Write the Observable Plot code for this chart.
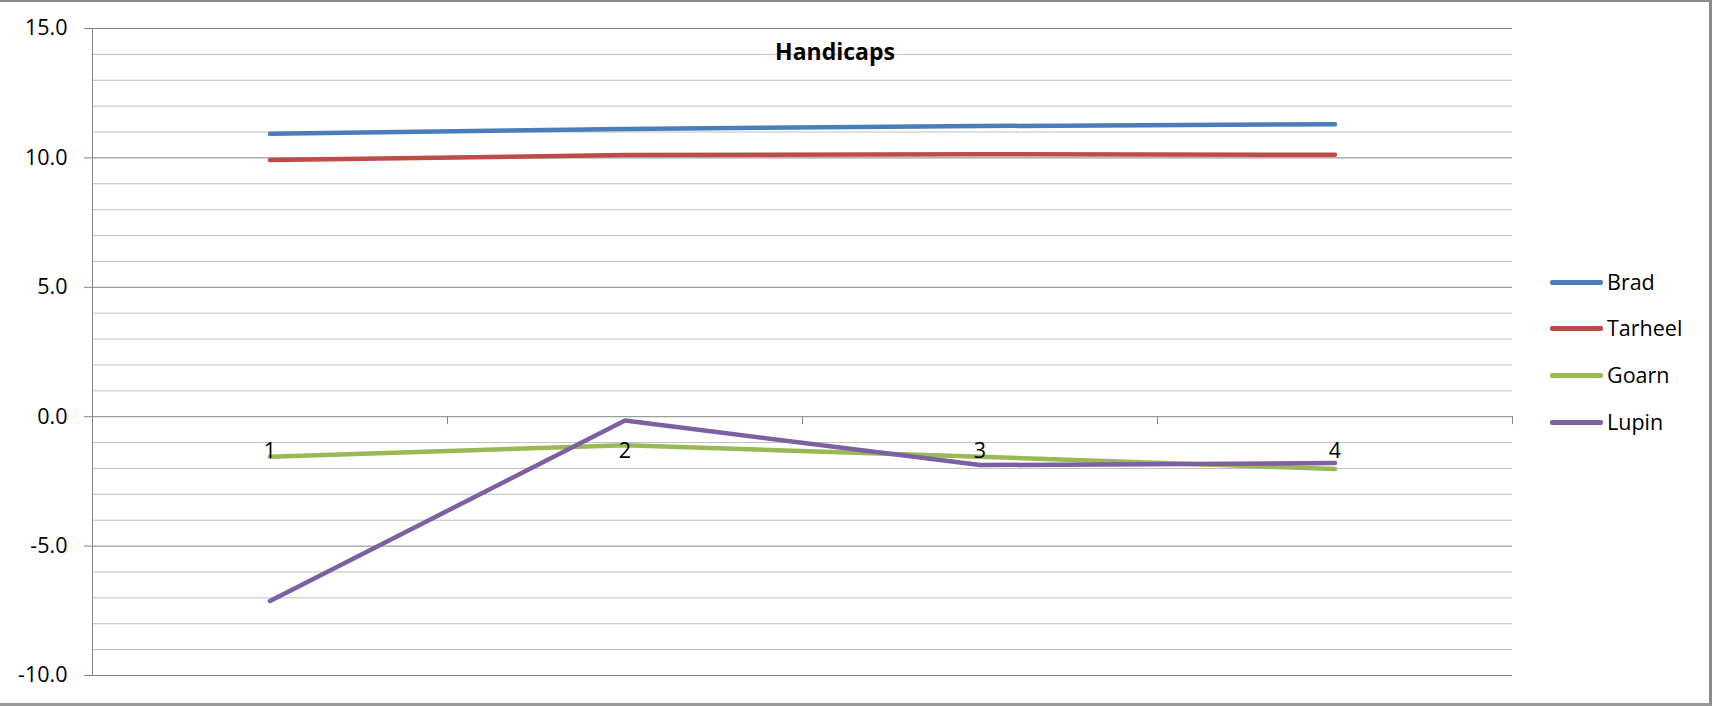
<!DOCTYPE html>
<html>
<head>
<meta charset="utf-8">
<script src="https://cdn.jsdelivr.net/npm/d3@7"></script>
<script src="https://cdn.jsdelivr.net/npm/@observablehq/plot@0.6"></script>
<style>
  html, body { margin: 0; padding: 0; background: #fff; }
  #chart { position: relative; width: 1712px; height: 706px; overflow: hidden; font-family: "Open Sans", sans-serif; }
  #title { position: absolute; left: 835px; top: 51px; transform: translate(-50%, -50%); font-size: 23px; font-weight: bold; color: #000; white-space: nowrap; }
  #legend { position: absolute; left: 1550px; top: 0; }
  .item { position: absolute; left: 0; height: 0; white-space: nowrap; }
  .swatch { position: absolute; left: 0; top: -2px; width: 53px; height: 4.5px; border-radius: 2px; }
  .label { position: absolute; left: 57px; top: 0; transform: translateY(-50%); font-size: 21.5px; color: #000; line-height: 1; }
  #border { position: absolute; left: 0; top: 0; right: 0; bottom: 0; border-top: 2px solid #8a8a8a; border-right: 3px solid #8a8a8a; border-bottom: 3px solid #9a9a9a; pointer-events: none; }
</style>
</head>
<body>
<div id="chart">
  <div id="title"></div>
  <div id="legend"></div>
  <div id="border"></div>
</div>
<script>
// ---- data ----
const titleText = "Handicaps";
const categories = [1, 2, 3, 4];
const seriesNames = ["Brad", "Tarheel", "Goarn", "Lupin"];
const seriesColors = ["#4a7ebb", "#be4b48", "#98b954", "#7d60a0"];
const brad = [10.93, 11.12, 11.23, 11.30];
const tarheel = [9.92, 10.11, 10.14, 10.12];
const goarn = [-1.55, -1.10, -1.55, -2.02];
const lupin = [-7.12, -0.15, -1.87, -1.79];
const yTicks = [-10, -5, 0, 5, 10, 15];
const yMinor = [-9, -8, -7, -6, -4, -3, -2, -1, 1, 2, 3, 4, 6, 7, 8, 9, 11, 12, 13, 14];

const seriesValues = [brad, tarheel, goarn, lupin];
const rows = [];
seriesNames.forEach((name, s) => {
  categories.forEach((c, i) => rows.push({series: name, cat: c, value: seriesValues[s][i]}));
});
const boundaries = [0.5, ...categories.map(c => c + 0.5)];

const plot = Plot.plot({
  width: 1712,
  height: 706,
  marginLeft: 92,
  marginRight: 200,
  marginTop: 28,
  marginBottom: 31,
  style: {fontFamily: "'Open Sans', sans-serif", background: "transparent", overflow: "visible"},
  x: {type: "linear", domain: [0.5, 4.5], axis: null},
  y: {type: "linear", domain: [-10, 15], label: null},
  color: {domain: seriesNames, range: seriesColors},
  marks: [
    Plot.ruleY(yMinor, {stroke: "#bfbfbf", strokeWidth: 1}),
    Plot.ruleY(yTicks, {stroke: "#868686", strokeWidth: 1}),
    Plot.ruleX([boundaries[0]], {stroke: "#868686", strokeWidth: 1}),
    Plot.ruleX(boundaries, {x: d => d, y1: 0, y2: 0, insetBottom: -8, stroke: "#868686", strokeWidth: 1}),
    Plot.axisY({ticks: yTicks, tickFormat: d => d.toFixed(1), tickSize: 8, tickPadding: 17, fontSize: 21.5, stroke: "#868686", fill: "#000", label: null}),
    Plot.line(rows, {x: "cat", y: "value", z: "series", stroke: "series", strokeWidth: 4.5, strokeLinecap: "round", strokeLinejoin: "round"}),
    Plot.text(categories, {x: d => d, y: 0, text: d => String(d), dy: 34, fontSize: 21.5, fill: "#000"})
  ]
});
document.getElementById("chart").prepend(plot);
document.getElementById("title").textContent = titleText;

const legendY = [282, 328, 375, 422];
const legend = document.getElementById("legend");
seriesNames.forEach((name, i) => {
  const item = document.createElement("div");
  item.className = "item";
  item.style.top = legendY[i] + "px";
  const sw = document.createElement("div");
  sw.className = "swatch";
  sw.style.background = seriesColors[i];
  const lb = document.createElement("div");
  lb.className = "label";
  lb.textContent = name;
  item.appendChild(sw);
  item.appendChild(lb);
  legend.appendChild(item);
});
</script>
</body>
</html>
